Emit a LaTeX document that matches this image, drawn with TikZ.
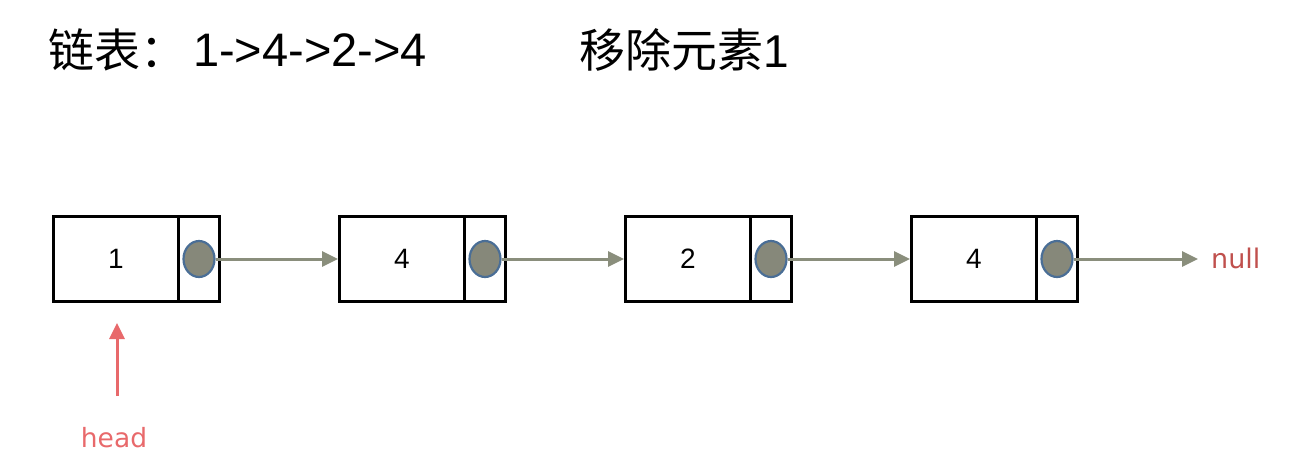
\documentclass[tikz,border=0pt]{standalone}
\usepackage{fontspec}
\setmainfont{Liberation Sans}
\newfontfamily\cjk{Noto Sans CJK SC}
\newfontfamily\lbl{DejaVu Sans}
\usetikzlibrary{arrows.meta,shapes.geometric}
\definecolor{dotfill}{HTML}{86887A}
\definecolor{dotedge}{HTML}{4A6E96}
\definecolor{ptrcol}{HTML}{8A8E7C}
\definecolor{nullcol}{HTML}{C0504D}
\definecolor{headcol}{HTML}{E8696B}
\begin{document}
\begin{tikzpicture}[x=1pt,y=-1pt,
  databox/.style={draw=black,line width=3pt,minimum width=125pt,minimum height=85pt,inner sep=0pt,font=\fontsize{28}{30}\selectfont},
  nextbox/.style={draw=black,line width=3pt,minimum width=41pt,minimum height=85pt,inner sep=0pt},
  dot/.style={ellipse,draw=dotedge,fill=dotfill,line width=2.2pt,minimum width=31pt,minimum height=36pt,inner sep=0pt},
  ptr/.style={draw=ptrcol,line width=3pt,-{Triangle[length=16pt,width=15pt]}},
  headarrow/.style={draw=headcol,line width=3pt,-{Triangle[length=16pt,width=15pt]}},
  title/.style={anchor=west,inner sep=0pt,font=\fontsize{46}{50}\selectfont}]
\useasboundingbox (0,0) rectangle (1316,475);
\node[title] (t1) at (48,50) {\cjk 链表：};
\node[title,font=\fontsize{47}{50}\selectfont] (t2) at (193,50) {1->4->2->4};
\node[title] (t3) at (579,50) {{\cjk 移除元素}1};
\foreach \i/\x/\v in {1/52/1,2/338/4,3/624/2,4/910/4}{
  \node[databox,anchor=north west] (d\i) at (\x,215) {\v};
  \node[nextbox,anchor=north west] (p\i) at (\x+125,215) {};
  \node[dot] (c\i) at (p\i.center) {};
}
\draw[ptr] (c1.east) -- (d2.west);
\draw[ptr] (c2.east) -- (d3.west);
\draw[ptr] (c3.east) -- (d4.west);
\coordinate (nullx) at (1198,0);
\coordinate (nullend) at (c4.east -| nullx);
\draw[ptr] (c4.east) -- (nullend);
\node[text=nullcol,font=\lbl\fontsize{27}{29}\selectfont,anchor=west,inner sep=0pt] (nul) at (1211,258) {null};
\node[text=headcol,font=\lbl\fontsize{26.5}{29}\selectfont,inner sep=0pt] (head) at (114,438) {head};
\coordinate (headtip) at (117,323);
\draw[headarrow] (117,396) -- (headtip);
\end{tikzpicture}
\end{document}
